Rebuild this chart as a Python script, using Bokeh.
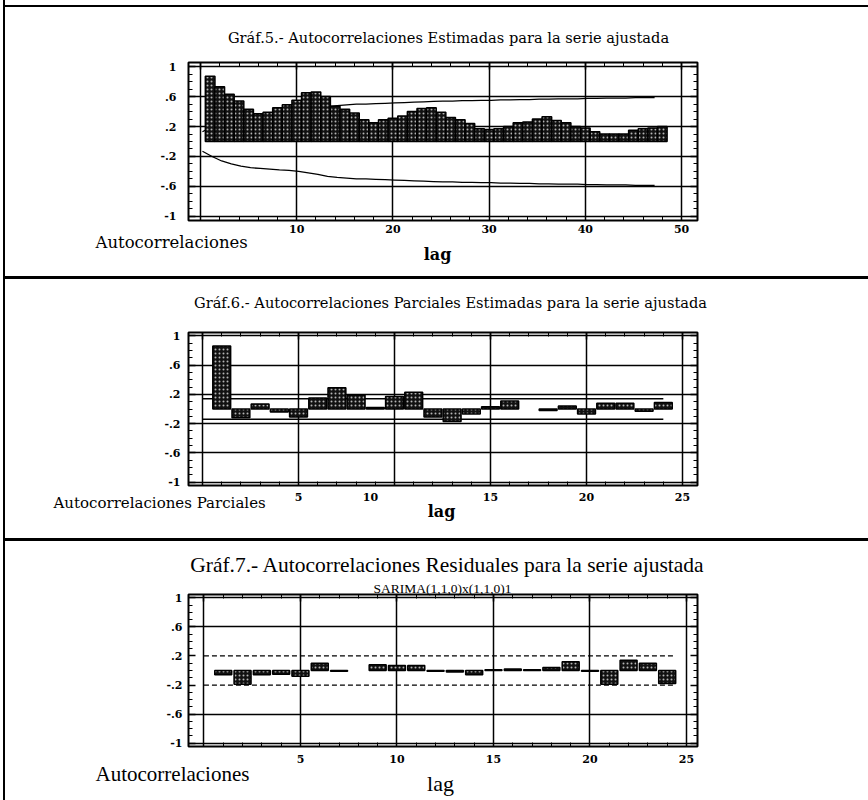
from bokeh.plotting import figure
from bokeh.models import Range1d, FixedTicker, LinearAxis, Label, Div, CustomJSTickFormatter, Grid
from bokeh.layouts import column, row
from bokeh.embed import file_html
from bokeh.resources import INLINE
import numpy as np

# ---------------- data ----------------
acf_lags = list(range(1, 49))
acf_values = [0.87, 0.73, 0.63, 0.54, 0.43, 0.37, 0.39, 0.45, 0.49, 0.55,
              0.65, 0.66, 0.60, 0.47, 0.43, 0.38, 0.29, 0.25, 0.29, 0.31,
              0.34, 0.40, 0.44, 0.45, 0.39, 0.32, 0.29, 0.24, 0.17, 0.16,
              0.17, 0.20, 0.25, 0.26, 0.30, 0.33, 0.28, 0.25, 0.20, 0.18,
              0.13, 0.10, 0.10, 0.10, 0.15, 0.17, 0.18, 0.20]
acf_bounds = [0.13, 0.20, 0.26, 0.30, 0.33, 0.35, 0.36, 0.37, 0.38, 0.385,
              0.40, 0.42, 0.44, 0.465, 0.48, 0.49, 0.50, 0.50, 0.505, 0.51,
              0.515, 0.52, 0.525, 0.53, 0.535, 0.54, 0.54, 0.545, 0.545, 0.55,
              0.55, 0.555, 0.555, 0.56, 0.56, 0.565, 0.565, 0.57, 0.57, 0.57,
              0.575, 0.575, 0.58, 0.58, 0.58, 0.585, 0.585, 0.585]
acf_tick_values = [10, 20, 30, 40, 50]
acf_tick_labels = ["10", "20", "30", "40", "50"]

pacf_lags = list(range(1, 25))
pacf_values = [0.86, -0.12, 0.07, -0.04, -0.11, 0.15, 0.29, 0.19, 0.02, 0.17,
               0.23, -0.11, -0.17, -0.07, 0.03, 0.11, float("nan"), -0.02, 0.04, -0.07,
               0.08, 0.08, -0.03, 0.09]
pacf_bound = 0.14
pacf_tick_values = [5, 8.75, 15, 20, 25]
pacf_tick_labels = ["5", "10", "15", "20", "25"]

resid_lags = list(range(1, 25))
resid_values = [-0.06, -0.19, -0.06, -0.05, -0.08, 0.10, -0.01, float("nan"), 0.08, 0.07,
                0.07, -0.01, -0.02, -0.06, 0.01, 0.02, 0.01, 0.04, 0.12, -0.01,
                -0.19, 0.14, 0.10, -0.18]
resid_bound = 0.20
resid_tick_values = [5, 10, 15, 20, 25]
resid_tick_labels = ["5", "10", "15", "20", "25"]

y_ticks = [-1, -0.6, -0.2, 0.2, 0.6, 1]
y_tick_labels = ["-1", "-.6", "-.2", ".2", ".6", "1"]

title5 = "Gráf.5.- Autocorrelaciones Estimadas para la serie ajustada"
title6 = "Gráf.6.- Autocorrelaciones Parciales Estimadas para la serie ajustada"
title7 = "Gráf.7.- Autocorrelaciones Residuales para la serie ajustada"
subtitle7 = "SARIMA(1,1,0)x(1,1,0)1"

# ---------------- helpers ----------------
FIG_W = 863
LEFT = 183
FRAME_W = 509
SERIF = "DejaVu Serif"
TIMES = "Liberation Serif"
BAR = dict(fill_color="#111111", hatch_pattern="dot", hatch_color="#b4b4b4",
           hatch_scale=4, hatch_weight=1.0, line_color="black", line_width=1.5)


def panel(height, xr, yr, top, fh):
    p = figure(width=FIG_W, height=height, x_range=Range1d(*xr), y_range=Range1d(*yr),
               output_backend="svg", toolbar_location=None,
               x_axis_type=None, y_axis_type=None,
               min_border_left=LEFT, min_border_right=FIG_W - LEFT - FRAME_W,
               min_border_top=top, min_border_bottom=height - top - fh)
    p.outline_line_color = "black"
    p.outline_line_width = 2
    p.outline_line_alpha = 1
    return p


def axes(p, grid_x, x_minor, xt_vals, xt_labels, x_standoff, y_grid, y_standoff,
         tick_font=SERIF, tick_size="11px"):
    base = dict(axis_line_color=None, major_tick_out=0, minor_tick_in=4, minor_tick_out=0,
                major_tick_line_color="black", major_tick_line_width=1.5,
                minor_tick_line_color="black", minor_tick_line_width=1)
    y_minor = [round(v, 2) for v in np.arange(-1.0, 1.01, 0.1)]
    xb = LinearAxis(ticker=FixedTicker(ticks=xt_vals, minor_ticks=x_minor),
                    major_label_overrides=dict(zip(xt_vals, xt_labels)),
                    major_tick_in=0, major_label_standoff=x_standoff,
                    major_label_text_font=tick_font, major_label_text_font_style="bold",
                    major_label_text_font_size=tick_size, major_label_text_color="black", **base)
    xa = LinearAxis(ticker=FixedTicker(ticks=grid_x, minor_ticks=x_minor),
                    formatter=CustomJSTickFormatter(code="return ''"),
                    major_label_text_font_size="1px", major_label_standoff=0,
                    major_tick_in=7, **base)
    yl = LinearAxis(ticker=FixedTicker(ticks=y_ticks, minor_ticks=y_minor),
                    major_label_overrides=dict(zip(y_ticks, y_tick_labels)),
                    major_tick_in=7, major_label_standoff=y_standoff,
                    major_label_text_font=tick_font, major_label_text_font_style="bold",
                    major_label_text_font_size=tick_size, major_label_text_color="black", **base)
    yr = LinearAxis(ticker=FixedTicker(ticks=y_ticks, minor_ticks=y_minor),
                    formatter=CustomJSTickFormatter(code="return ''"),
                    major_label_text_font_size="1px", major_label_standoff=0,
                    major_tick_in=7, **base)
    p.add_layout(xb, "below")
    p.add_layout(xa, "above")
    p.add_layout(yl, "left")
    p.add_layout(yr, "right")
    p.add_layout(Grid(dimension=0, ticker=FixedTicker(ticks=grid_x),
                      grid_line_color="black", grid_line_width=1.5))
    p.add_layout(Grid(dimension=1, ticker=FixedTicker(ticks=y_grid),
                      grid_line_color="black", grid_line_width=1.5))


def label(p, side, text, x, y, size, font=SERIF, style="normal", align="left"):
    # x, y: position on the figure's canvas, in px from its top-left corner
    p.add_layout(Label(x=x, y=y, x_units="canvas", y_units="canvas", text=text,
                       text_font=font, text_font_size=size, text_font_style=style,
                       text_align=align, text_baseline="middle", text_color="black"), side)


# ---------------- panel 1 : ACF ----------------
p1 = panel(269, (-1.25, 51.66), (-1.055, 1.055), 55, 158)
axes(p1, [0, 10, 20, 30, 40, 50], list(range(0, 52, 2)), acf_tick_values, acf_tick_labels,
     4, y_ticks, 12)
bx1 = [l - 0.8 for l in acf_lags]
p1.line(bx1, acf_bounds, line_color="black", line_width=1.3)
p1.line(bx1, [-b for b in acf_bounds], line_color="black", line_width=1.3)
p1.vbar(x=acf_lags, top=acf_values, bottom=0, width=1.0, **BAR)
label(p1, "above", title5, 443, 30, "14.6px", align="center")
label(p1, "below", "Autocorrelaciones", 90, 235, "16.5px")
label(p1, "left", "lag", 432, 247, "16px", style="bold", align="center")

# ---------------- panel 2 : PACF ----------------
p2 = panel(259, (-0.73, 25.78), (-1.045, 1.045), 53, 153)
axes(p2, [0, 5, 10, 15, 20, 25], list(range(0, 26)), pacf_tick_values, pacf_tick_labels,
     7, y_ticks, 8)
bx2 = [pacf_lags[0] - 1, pacf_lags[-1]]
p2.line(bx2, [pacf_bound] * 2, line_color="black", line_width=1.3)
p2.line(bx2, [-pacf_bound] * 2, line_color="black", line_width=1.3)
p2.vbar(x=pacf_lags, top=pacf_values, bottom=0, width=0.93, **BAR)
label(p2, "above", title6, 445, 23, "14.6px", align="center")
label(p2, "below", "Autocorrelaciones Parciales", 48, 223, "15px")
label(p2, "left", "lag", 436, 232, "16px", style="bold", align="center")

# ---------------- panel 3 : residual ACF ----------------
p3 = panel(259, (-0.8, 25.57), (-1.045, 1.045), 53, 152)
axes(p3, [0, 5, 10, 15, 20, 25], list(range(0, 26)), resid_tick_values, resid_tick_labels,
     8, [-1, -0.6, 0.6, 1], 6)
bx3 = [resid_lags[0] - 1, resid_lags[-1] + 0.3]
p3.line(bx3, [resid_bound] * 2, line_color="black", line_width=1.3, line_dash="5 3")
p3.line(bx3, [-resid_bound] * 2, line_color="black", line_width=1.3, line_dash="5 3")
p3.vbar(x=resid_lags, top=resid_values, bottom=0, width=0.88, **BAR)
label(p3, "above", title7, 442, 23, "21.5px", font=TIMES, align="center")
label(p3, "above", subtitle7, 437, 47, "13.5px", font=TIMES, align="center")
label(p3, "below", "Autocorrelaciones", 90, 232, "21px", font=TIMES)
label(p3, "left", "lag", 435, 242, "22px", font=TIMES, align="center")

# ---------------- page frame ----------------
def block(w, h, color="black"):
    return Div(width=w, height=h, styles={"background-color": color}, margin=(0, 0, 0, 0))

layout = row(block(3, 800, "white"), block(2, 800),
             column(block(FIG_W, 5, "white"), block(FIG_W, 2), p1, block(FIG_W, 3),
                    p2, block(FIG_W, 3), p3, spacing=0),
             spacing=0)

open("out.html", "w").write(file_html(layout, INLINE))
